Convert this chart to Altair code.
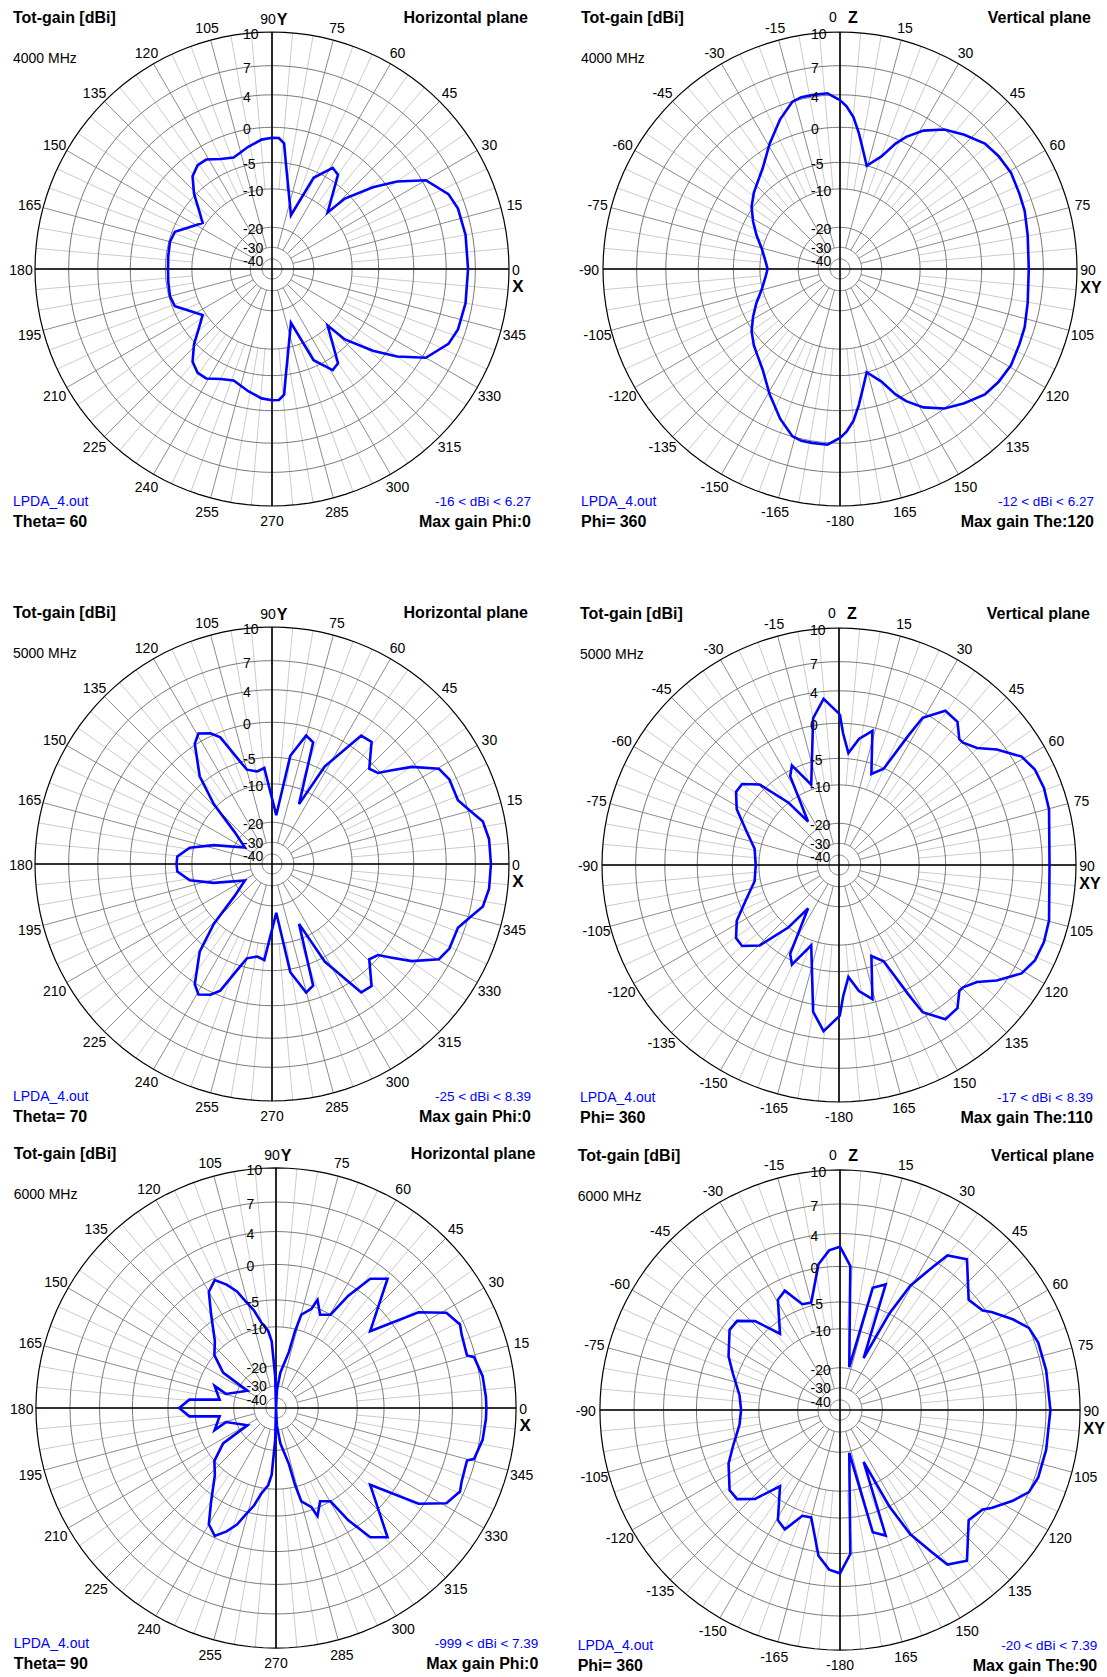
import altair as alt
import pandas as pd

FONT = "Liberation Sans"
BLUE = "#0000ff"
RING_GREY = "#7a7a7a"
SPOKE_GREY = "#8c8c8c"
MINOR_GREY = "#cbcbcb"

# Gain rings (dBi) of the compressed radial scale and their radius as a share of the outer ring
RING_DB = [-40, -30, -20, -10, -5, 0, 4, 7, 10]
RING_FRAC = [0.042, 0.0915, 0.176, 0.338, 0.45, 0.598, 0.735, 0.858, 1.0]
OUTER_R = 237.0

DIAL_TEXT = ["10", "7", "4", "0", "-5", "-10", "-20", "-30", "-40"]
DIAL_DB = [10, 7, 4, 0, -5, -10, -20, -30, -40]

# Direction labels: azimuth (CCW from X) for horizontal cuts, angle from Z (clockwise) for vertical cuts
H_LABEL_ANGLES = [15, 30, 45, 60, 75, 105, 120, 135, 150, 165, 180, 195, 210, 225, 240, 255, 270,
                  285, 300, 315, 330, 345]
H_LABEL_TEXT = ["15", "30", "45", "60", "75", "105", "120", "135", "150", "165", "180", "195", "210",
                "225", "240", "255", "270", "285", "300", "315", "330", "345"]
V_LABEL_ANGLES = [15, 30, 45, 60, 75, 105, 120, 135, 150, 165, 180, 195, 210, 225, 240, 255, 270,
                  285, 300, 315, 330, 345]
V_LABEL_TEXT = ["15", "30", "45", "60", "75", "105", "120", "135", "150", "165", "-180", "-165", "-150",
                "-135", "-120", "-105", "-90", "-75", "-60", "-45", "-30", "-15"]

MINOR_SPOKES = [a for a in range(0, 360, 5) if a % 15]
MAJOR_SPOKES = list(range(0, 360, 15))
RING_STEPS = list(range(0, 361, 3))

# Radiation patterns: (angle in degrees, total gain in dBi), in drawing order
TL_TRACE = [(0, 6.25), (10, 6.3), (18, 6.2), (23, 5.8), (30, 4.35), (35, 1.35), (39, -1.7), (44, -6.0),
            (45.5, -10.2), (55, -3.8), (59, -3.4), (65.5, -6.2), (70.6, -16.0), (82.6, -4.9), (84.5, -2.2),
            (87, -1.5), (90, -1.5), (94.6, -1.7), (101, -2.45), (107, -3.2), (109, -3.4), (115, -2.9),
            (121, -2.0), (125.6, -2.0), (130.6, -2.8), (136, -4.75), (141.3, -7.5), (146.4, -9.4),
            (154.3, -7.3), (159, -5.5), (165, -5.2), (173, -5.4), (180, -5.5), (187, -5.4), (195, -5.2),
            (201, -5.5), (205.7, -7.3), (213.6, -9.4), (218.7, -7.5), (224, -4.75), (229.4, -2.8),
            (234.4, -2.0), (239, -2.0), (245, -2.9), (251, -3.4), (253, -3.2), (259, -2.45), (265.4, -1.7),
            (270, -1.5), (273, -1.5), (275.5, -2.2), (277.4, -4.9), (289.4, -16.0), (294.5, -6.2),
            (301, -3.4), (305, -3.8), (314.5, -10.2), (316, -6.0), (321, -1.7), (325, 1.35), (330, 4.35),
            (337, 5.8), (342, 6.2), (350, 6.3), (360, 6.25)]

TR_TRACE = [(0, 3.34), (2.3, 2.6), (5.1, 1.3), (7.9, -0.65), (11.2, -3.1), (14.5, -5.0), (20.2, -3.1),
            (23.9, -0.65), (26.6, 0.75), (31.1, 2.45), (36.8, 4.0), (42.8, 4.9), (49.1, 5.8), (54.5, 6.1),
            (60.6, 6.27), (67.2, 6.1), (72.5, 6.0), (79.8, 5.7), (90, 5.5), (100.2, 5.7), (107.5, 6.0),
            (112.8, 6.1), (119.4, 6.27), (125.5, 6.1), (130.9, 5.8), (137.2, 4.9), (143.2, 4.0),
            (148.9, 2.45), (153.4, 0.75), (156.1, -0.65), (159.8, -3.1), (165.5, -5.0), (168.8, -3.1),
            (172.1, -0.65), (174.9, 1.3), (177.7, 2.6), (180, 3.34), (-175.9, 4.2), (-170.8, 4.2),
            (-167.3, 4.2), (-164.1, 3.95), (-158.2, 2.4), (-150.7, 0.25), (-142.5, -2.1), (-136.4, -3.15),
            (-131.5, -3.8), (-125.1, -4.8), (-118.8, -6.4), (-112.1, -8.1), (-104.4, -9.9), (-94.9, -11.5),
            (-90, -12.0), (-85.1, -11.5), (-75.6, -9.9), (-67.9, -8.1), (-61.2, -6.4), (-54.9, -4.8),
            (-48.5, -3.8), (-43.6, -3.15), (-37.5, -2.1), (-29.3, 0.25), (-21.8, 2.4), (-15.9, 3.95),
            (-12.7, 4.2), (-9.2, 4.2), (-4.1, 4.2), (0, 3.34)]

ML_TRACE = [(0, 8.39), (6.5, 8.35), (11.4, 8.05), (14.9, 7.2), (18.9, 6.3), (25.5, 6.3), (29.7, 5.85),
            (34.8, 3.5), (38, 1.3), (40.7, -0.3), (44.4, -0.8), (50.8, 1.95), (55.2, 1.8), (61.6, -4.4),
            (65.7, -13.75), (71.3, -1.9), (75.1, -1.25), (80.4, -4.55), (85, -18.1), (94.6, -6.95),
            (99, -7.45), (104.9, -6.7), (107.9, -4.5), (112.2, -0.7), (115.2, 0.35), (119.4, 1.0),
            (122.7, 0.15), (129.5, -4.0), (134.2, -9.4), (139.4, -18.0), (148.8, -25.0), (162.1, -14.9),
            (168.8, -9.3), (175.4, -7.2), (180, -7.1), (184.6, -7.2), (191.2, -9.3), (197.9, -14.9),
            (211.2, -25.0), (220.6, -18.0), (225.8, -9.4), (230.5, -4.0), (237.3, 0.15), (240.6, 1.0),
            (244.8, 0.35), (247.8, -0.7), (252.1, -4.5), (255.1, -6.7), (261, -7.45), (265.4, -6.95),
            (275, -18.1), (279.6, -4.55), (284.9, -1.25), (288.7, -1.9), (294.3, -13.75), (298.4, -4.4),
            (304.8, 1.8), (309.2, 1.95), (315.6, -0.8), (319.3, -0.3), (322, 1.3), (325.2, 3.5),
            (330.3, 5.85), (334.5, 6.3), (341.1, 6.3), (345.1, 7.2), (348.6, 8.05), (353.5, 8.35),
            (360, 8.39)]

MR_TRACE = [(0.3, 1.1), (1.8, -1.46), (4.8, -4.2), (9, -2.0), (14, -0.5), (19.6, -6.9), (24.9, -5.1),
            (28.2, 0.66), (29.6, 3.4), (34.6, 5.35), (39.6, 5.2), (43.7, 4.0), (45.4, 4.0), (49.7, 4.7),
            (53.8, 6.2), (59.3, 7.8), (64, 8.3), (69.4, 8.39), (75.2, 8.24), (90, 7.64), (104.8, 8.24),
            (110.6, 8.39), (116, 8.3), (120.7, 7.8), (126.2, 6.2), (130.3, 4.7), (134.6, 4.0), (136.3, 4.0),
            (140.4, 5.2), (145.4, 5.35), (150.4, 3.4), (151.8, 0.66), (155.1, -5.1), (160.4, -6.9),
            (166, -0.5), (171, -2.0), (175.2, -4.2), (178.2, -1.46), (179.7, 1.1), (-174.7, 3.1),
            (-170, 0.9), (-160.9, -9.1), (-154.7, -4.5), (-151.2, -6.0), (-144.5, -17.0), (-141, -10.0),
            (-135.4, -4.1), (-129.9, -2.2), (-125.4, -2.2), (-118.6, -3.6), (-110.2, -6.5), (-100.9, -8.9),
            (-90, -9.4), (-79.1, -8.9), (-69.8, -6.5), (-61.4, -3.6), (-54.6, -2.2), (-50.1, -2.2),
            (-44.6, -4.1), (-39, -10.0), (-35.5, -17.0), (-28.8, -6.0), (-25.3, -4.5), (-19.1, -9.1),
            (-10, 0.9), (-5.3, 3.1), (0.3, 1.1)]

BL_TRACE = [(0, 7.39), (3, 7.37), (8.75, 7.27), (14.4, 6.85), (15.4, 6.2), (21.5, 6.35), (24.4, 6.6),
            (29.2, 5.9), (33.9, 3.43), (39.2, -3.1), (49.2, 3.3), (53.9, 2.0), (57.2, -1.4), (59.7, -5.0),
            (64.7, -5.9), (69, -3.9), (70.3, -5.5), (74.8, -7.1), (76.1, -10.6), (77, -16.0), (83, -23.3),
            (87, -33.4), (90, -999), (91.5, -25.0), (93.7, -13.7), (95.8, -10.9), (99.8, -8.9),
            (102.7, -6.5), (105.9, -4.6), (108.5, -2.9), (111.8, -1.5), (115.6, -0.25), (120, -1.3),
            (124.6, -4.1), (132.3, -8.2), (139.4, -10.0), (146.2, -14.5), (147.4, -19.0), (148.8, -24.4),
            (164.3, -17.5), (160.2, -14.1), (171.6, -16.2), (174.5, -8.9), (180, -7.1), (185.5, -8.9),
            (188.4, -16.2), (199.8, -14.1), (195.7, -17.5), (211.2, -24.4), (212.6, -19.0), (213.8, -14.5),
            (220.6, -10.0), (227.7, -8.2), (235.4, -4.1), (240, -1.3), (244.4, -0.25), (248.2, -1.5),
            (251.5, -2.9), (254.1, -4.6), (257.3, -6.5), (260.2, -8.9), (264.2, -10.9), (266.3, -13.7),
            (268.5, -25.0), (270, -999), (273, -33.4), (277, -23.3), (283, -16.0), (283.9, -10.6),
            (285.2, -7.1), (289.7, -5.5), (291, -3.9), (295.3, -5.9), (300.3, -5.0), (302.8, -1.4),
            (306.1, 2.0), (310.8, 3.3), (320.8, -3.1), (326.1, 3.43), (330.8, 5.9), (335.6, 6.6),
            (338.5, 6.35), (344.6, 6.2), (345.6, 6.85), (351.25, 7.27), (357, 7.37), (360, 7.39)]

BR_TRACE = [(0, 2.4), (4.1, 0.1), (12.2, -19.6), (15, -2.4), (20, -1.4), (24.5, -16.2), (27.1, -5.0),
            (29.5, -0.1), (32.8, 3.1), (34.8, 5.2), (40.1, 6.1), (49.4, 3.15), (55.1, 3.7), (57.1, 4.4),
            (62.3, 5.9), (66.5, 7.0), (71.2, 7.3), (79.1, 7.35), (90, 7.39), (100.9, 7.35), (108.8, 7.3),
            (113.5, 7.0), (117.7, 5.9), (122.9, 4.4), (124.9, 3.7), (130.6, 3.15), (139.9, 6.1),
            (145.2, 5.2), (147.2, 3.1), (150.5, -0.1), (152.9, -5.0), (155.5, -16.2), (160, -1.4),
            (165, -2.4), (167.8, -19.6), (175.9, 0.1), (180, 2.4), (-176.1, 2.0), (-171.6, 0.45),
            (-165, -4.55), (-160.4, -4.4), (-155.2, -1.7), (-150.6, -2.4), (-141.8, -7.05), (-136.3, -2.9),
            (-130.9, -1.05), (-126, -1.0), (-115.7, -2.8), (-108.7, -4.3), (-98.4, -6.2), (-90, -6.7),
            (-81.6, -6.2), (-71.3, -4.3), (-64.3, -2.8), (-54, -1.0), (-49.1, -1.05), (-43.7, -2.9),
            (-38.2, -7.05), (-29.4, -2.4), (-24.8, -1.7), (-19.6, -4.4), (-15, -4.55), (-8.4, 0.45),
            (-3.9, 2.0), (0, 2.4)]

PANELS = [
    dict(W=556, H=594, cx=272, cy=269, k=1.0, kind="H", freq="4000 MHz", plane="Horizontal plane",
         cut="Theta= 60", rng="-16 < dBi < 6.27", mx="Max gain Phi:0", trace=TL_TRACE),
    dict(W=551, H=594, cx=284, cy=269, k=1.0, kind="V", freq="4000 MHz", plane="Vertical plane",
         cut="Phi= 360", rng="-12 < dBi < 6.27", mx="Max gain The:120", trace=TR_TRACE),
    dict(W=556, H=544, cx=272, cy=270, k=1.0, kind="H", freq="5000 MHz", plane="Horizontal plane",
         cut="Theta= 70", rng="-25 < dBi < 8.39", mx="Max gain Phi:0", trace=ML_TRACE),
    dict(W=551, H=544, cx=283, cy=271, k=1.0, kind="V", freq="5000 MHz", plane="Vertical plane",
         cut="Phi= 360", rng="-17 < dBi < 8.39", mx="Max gain The:110", trace=MR_TRACE),
    dict(W=556, H=539, cx=276, cy=270, k=1.013, kind="H", freq="6000 MHz", plane="Horizontal plane",
         cut="Theta= 90", rng="-999 < dBi < 7.39", mx="Max gain Phi:0", trace=BL_TRACE),
    dict(W=551, H=539, cx=284, cy=272, k=1.013, kind="V", freq="6000 MHz", plane="Vertical plane",
         cut="Phi= 360", rng="-20 < dBi < 7.39", mx="Max gain The:90", trace=BR_TRACE),
]


def radius_expr(field, R):
    """Piecewise-linear mapping of a gain value (dBi) to a pixel radius."""
    e = f"datum.{field} < {RING_DB[0]} ? 0 : "
    for i in range(1, len(RING_DB)):
        lo, hi = RING_DB[i - 1], RING_DB[i]
        r0, r1 = R * RING_FRAC[i - 1], R * RING_FRAC[i]
        e += f"datum.{field} < {hi} ? {r0:.3f} + (datum.{field} - ({lo})) * {(r1 - r0) / (hi - lo):.5f} : "
    return e + f"{R:.3f}"


def ring_radius(db, R):
    return R * RING_FRAC[RING_DB.index(db)]


def label(s, px, py, align="left", bold=False, color="black", size=14):
    return alt.Chart(pd.DataFrame({"t": [s]})).mark_text(
        align=align, baseline="middle", font=FONT, fontSize=size,
        fontWeight="bold" if bold else "normal", color=color,
    ).encode(x=alt.value(px), y=alt.value(py), text="t:N")


def panel(p):
    W, H, cx, cy, k = p["W"], p["H"], p["cx"], p["cy"], p["k"]
    R = OUTER_R * k
    xs = alt.Scale(domain=[-cx, W - cx], nice=False, zero=False)
    ys = alt.Scale(domain=[cy - H, cy], nice=False, zero=False)

    def X(f):
        return alt.X(f"{f}:Q", scale=xs, axis=None)

    def Y(f):
        return alt.Y(f"{f}:Q", scale=ys, axis=None)

    phi = "datum.a" if p["kind"] == "H" else "90 - datum.a"
    rad = "PI / 180"

    def spokes(angles, r_in, color):
        return alt.Chart(pd.DataFrame({"a": angles})).transform_calculate(
            x=f"{r_in} * cos(datum.a * {rad})", y=f"{r_in} * sin(datum.a * {rad})",
            x2=f"{R} * cos(datum.a * {rad})", y2=f"{R} * sin(datum.a * {rad})",
        ).mark_rule(color=color, strokeWidth=1).encode(
            x=X("x"), y=Y("y"), x2=alt.X2("x2:Q"), y2=alt.Y2("y2:Q"))

    minor = spokes(MINOR_SPOKES, ring_radius(-10, R), MINOR_GREY)
    major = spokes(MAJOR_SPOKES, ring_radius(-30, R), SPOKE_GREY)

    # concentric gain rings, traced as closed polylines
    ring_df = pd.DataFrame([(g, a) for g in RING_DB for a in RING_STEPS], columns=["g", "a"])
    ring_base = alt.Chart(ring_df).transform_calculate(r=radius_expr("g", R)).transform_calculate(
        x=f"datum.r * cos(datum.a * {rad})", y=f"datum.r * sin(datum.a * {rad})")
    inner_rings = ring_base.transform_filter("datum.g < 10").mark_line(
        color=RING_GREY, strokeWidth=1).encode(
        x=X("x"), y=Y("y"), detail="g:N", order=alt.Order("a:Q"))
    outer_ring = ring_base.transform_filter("datum.g >= 10").mark_line(
        color="black", strokeWidth=1.2).encode(
        x=X("x"), y=Y("y"), detail="g:N", order=alt.Order("a:Q"))

    axes = alt.Chart(pd.DataFrame({"a": [0, 90]})).transform_calculate(
        x=f"{R} * cos(datum.a * {rad})", y=f"{R} * sin(datum.a * {rad})",
        x2=f"-{R} * cos(datum.a * {rad})", y2=f"-{R} * sin(datum.a * {rad})",
    ).mark_rule(color="black", strokeWidth=1.6).encode(
        x=X("x"), y=Y("y"), x2=alt.X2("x2:Q"), y2=alt.Y2("y2:Q"))

    tr = pd.DataFrame(p["trace"], columns=["a", "g"])
    tr["order"] = range(len(tr))
    trace = alt.Chart(tr).transform_calculate(phi=phi).transform_calculate(
        r=radius_expr("g", R)).transform_calculate(
        x=f"datum.r * cos(datum.phi * {rad})", y=f"datum.r * sin(datum.phi * {rad})",
    ).mark_line(color=BLUE, strokeWidth=2.6).encode(
        x=X("x"), y=Y("y"), order=alt.Order("order:Q"))

    if p["kind"] == "H":
        lab_df = pd.DataFrame({"a": H_LABEL_ANGLES, "t": H_LABEL_TEXT})
    else:
        lab_df = pd.DataFrame({"a": V_LABEL_ANGLES, "t": V_LABEL_TEXT})
    rl = 251 * k
    dir_labels = alt.Chart(lab_df).transform_calculate(phi=phi).transform_calculate(
        x=f"{rl} * cos(datum.phi * {rad})", y=f"{rl} * sin(datum.phi * {rad}) - {2 * k}",
    ).mark_text(font=FONT, fontSize=14, baseline="middle", align="center").encode(
        x=X("x"), y=Y("y"), text="t:N")

    dial = alt.Chart(pd.DataFrame({"t": DIAL_TEXT, "g": DIAL_DB})).transform_calculate(
        r=radius_expr("g", R)).transform_calculate(
        x=f"-{29 * k}", y=f"datum.g == -30 ? datum.r - {1.3 * k} : datum.r - {3 * k}").mark_text(
        font=FONT, fontSize=14, baseline="middle", align="left").encode(
        x=X("x"), y=Y("y"), text="t:N")

    def at(dx, dy):
        return cx + dx * k, cy - dy * k

    if p["kind"] == "H":
        specials = [
            label("90", *at(-4, 249), align="center"),
            label("Y", *at(10, 249), align="center", bold=True, size=16),
            label("0", *at(244, -2), align="center"),
            label("X", *at(246, -18), align="center", bold=True, size=17),
        ]
        rdx = 256
    else:
        specials = [
            label("0", *at(-7, 251), align="center"),
            label("Z", *at(13, 251), align="center", bold=True, size=16),
            label("90", *at(248, -2), align="center"),
            label("XY", *at(251, -18.5), align="center", bold=True, size=16),
        ]
        rdx = 251

    lx = cx - 259 * k
    rx = cx + rdx * k
    headers = [
        label("Tot-gain [dBi]", lx, cy - 251 * k, bold=True, size=16),
        label(p["plane"], rx, cy - 251 * k, align="right", bold=True, size=16),
        label(p["freq"], lx, cy - 210 * k),
        label("LPDA_4.out", lx, cy + 233 * k, color=BLUE),
        label(p["cut"], lx, cy + 253 * k, bold=True, size=16),
        label(p["rng"], rx + 3, cy + 233 * k, align="right", color=BLUE, size=13.5),
        label(p["mx"], rx + 3, cy + 253 * k, align="right", bold=True, size=16),
    ]

    return alt.layer(minor, major, inner_rings, outer_ring, axes, trace, dir_labels, dial,
                     *specials, *headers).properties(width=W, height=H)


panels = [panel(p) for p in PANELS]
chart = alt.concat(*panels, columns=2, spacing=0, bounds="flush", align="each").properties(
    padding=0, background="white").configure_view(stroke=None)

chart.save("out.html", embed_options={"renderer": "svg", "actions": False})
